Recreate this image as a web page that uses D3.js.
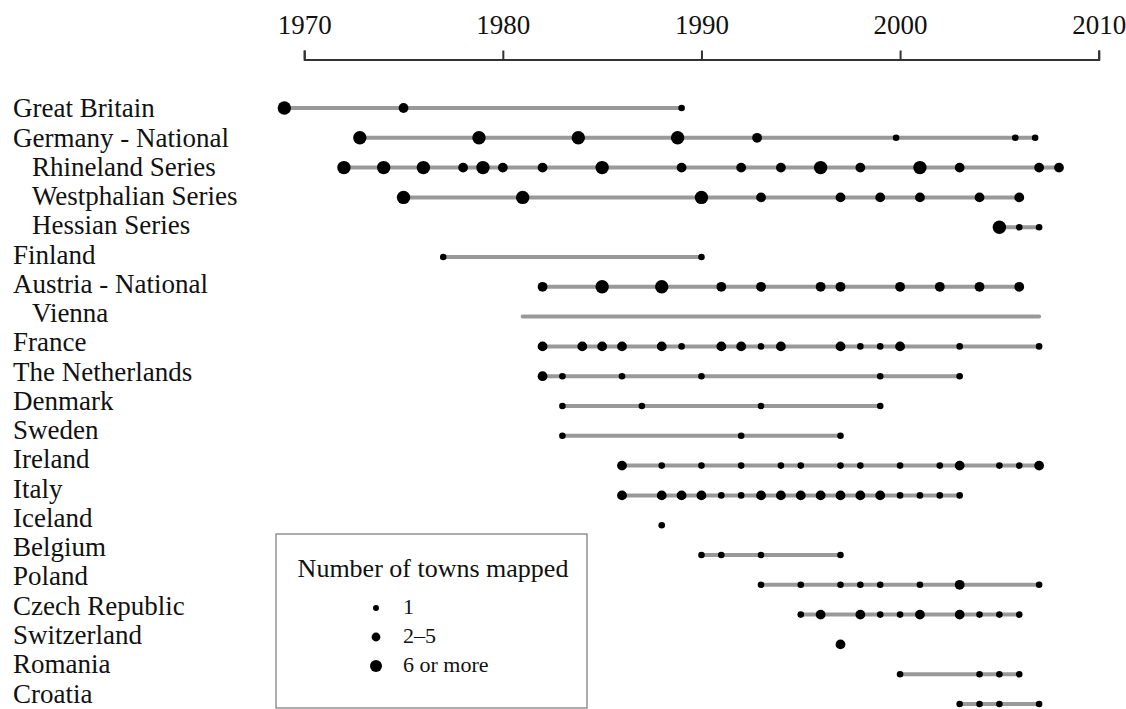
<!DOCTYPE html>
<html>
<head>
<meta charset="utf-8">
<script src="https://cdn.jsdelivr.net/npm/d3@7"></script>
<style>
  body { margin: 0; background: #fff; }
  text { font-family: "Liberation Serif", "Times New Roman", serif; fill: #111; }
</style>
</head>
<body>
<div id="chart"></div>
<script>
// row labels (indented rows are regional series)
let countries = ["Great Britain", "Germany - National", "Rhineland Series", "Westphalian Series",
    "Hessian Series", "Finland", "Austria - National", "Vienna", "France", "The Netherlands",
    "Denmark", "Sweden", "Ireland", "Italy", "Iceland", "Belgium", "Poland", "Czech Republic",
    "Switzerland", "Romania", "Croatia"];
let indented = [false, false, true, true, true, false, false, true, false, false,
    false, false, false, false, false, false, false, false, false, false, false];

// years of each atlas issue, per row
let years = [
    [1969, 1975, 1989],
    [1972.8, 1978.8, 1983.8, 1988.8, 1992.8, 1999.8, 2005.8, 2006.8],
    [1972, 1974, 1976, 1978, 1979, 1980, 1982, 1985, 1989, 1992, 1994, 1996, 1998, 2001, 2003, 2007, 2008],
    [1975, 1981, 1990, 1993, 1997, 1999, 2001, 2004, 2006],
    [2005, 2006, 2007],
    [1977, 1990],
    [1982, 1985, 1988, 1991, 1993, 1996, 1997, 2000, 2002, 2004, 2006],
    [],
    [1982, 1984, 1985, 1986, 1988, 1989, 1991, 1992, 1993, 1994, 1997, 1998, 1999, 2000, 2003, 2007],
    [1982, 1983, 1986, 1990, 1999, 2003],
    [1983, 1987, 1993, 1999],
    [1983, 1992, 1997],
    [1986, 1988, 1990, 1992, 1994, 1995, 1997, 1998, 2000, 2002, 2003, 2005, 2006, 2007],
    [1986, 1988, 1989, 1990, 1991, 1992, 1993, 1994, 1995, 1996, 1997, 1998, 1999, 2000, 2001, 2002, 2003],
    [1988],
    [1990, 1991, 1993, 1997],
    [1993, 1995, 1997, 1998, 1999, 2001, 2003, 2007],
    [1995, 1996, 1998, 1999, 2000, 2001, 2003, 2004, 2005, 2006],
    [1997],
    [2000, 2004, 2005, 2006],
    [2003, 2004, 2005, 2007]
];

// size class of each issue: 1 = 1 town, 2 = 2-5 towns, 3 = 6 or more
let sizes = [
    [3, 2, 1],
    [3, 3, 3, 3, 2, 1, 1, 1],
    [3, 3, 3, 2, 3, 2, 2, 3, 2, 2, 2, 3, 2, 3, 2, 2, 2],
    [3, 3, 3, 2, 2, 2, 2, 2, 2],
    [3, 1, 1],
    [1, 1],
    [2, 3, 3, 2, 2, 2, 2, 2, 2, 2, 2],
    [],
    [2, 2, 2, 2, 2, 1, 2, 2, 1, 2, 2, 1, 1, 2, 1, 1],
    [2, 1, 1, 1, 1, 1],
    [1, 1, 1, 1],
    [1, 1, 1],
    [2, 1, 1, 1, 1, 1, 1, 1, 1, 1, 2, 1, 1, 2],
    [2, 2, 2, 2, 1, 1, 2, 2, 2, 2, 2, 2, 2, 1, 1, 1, 1],
    [1],
    [1, 1, 1, 1],
    [1, 1, 1, 1, 1, 1, 2, 1],
    [1, 2, 2, 1, 1, 2, 2, 1, 1, 1],
    [2],
    [1, 1, 1, 1],
    [1, 1, 1, 1]
];

// Vienna has a span but no marked issues
let viennaSpan = [1981, 2007];

let tickYears = [1970, 1980, 1990, 2000, 2010];
let legendClasses = [1, 2, 3];
let legendLabels = ["1", "2\u20135", "6 or more"];

let svgWidth = 1126;
let svgHeight = 709;

let svg = d3.select("#chart")
    .append("svg")
    .attr("width", svgWidth)
    .attr("height", svgHeight);

let xScale = d3.scaleLinear()
    .domain([1970, 2010])
    .range([304.2, 1098.7]);

//dot rows
let yScale = d3.scalePoint()
    .domain(countries)
    .range([108, 704]);

//label rows are spaced a little tighter than the dot rows
let labelY = d3.scalePoint()
    .domain(countries)
    .range([117.3, 702.5]);

let rScale = d3.scaleOrdinal()
    .domain([1, 2, 3])
    .range([3.3, 4.9, 6.7]);

//top axis
let topAxis = d3.axisTop(xScale)
    .tickValues(tickYears)
    .tickFormat(d3.format("d"))
    .tickSize(9)
    .tickSizeOuter(9)
    .tickPadding(17);

let axisG = svg.append("g")
    .attr("transform", "translate(0, 59.5)")
    .call(topAxis);

axisG.select(".domain").attr("stroke", "#333").attr("stroke-width", 2);
axisG.selectAll(".tick line").attr("stroke", "#333").attr("stroke-width", 2);
axisG.selectAll(".tick text")
    .style("font-family", "'Liberation Serif', 'Times New Roman', serif")
    .style("font-size", "27px")
    .attr("fill", "#111");

//row labels
svg.append("g").selectAll("text")
    .data(countries)
    .enter()
    .append("text")
    .attr("x", (d, i) => indented[i] ? 32 : 13)
    .attr("y", d => labelY(d))
    .style("font-size", "27px")
    .text(d => d);

//spans
let rows = countries.map((c, i) => {
    let ext = years[i].length ? d3.extent(years[i]) : viennaSpan;
    return {name: c, start: ext[0], end: ext[1]};
}).filter(d => d.end > d.start);

svg.append("g").selectAll("line")
    .data(rows)
    .enter()
    .append("line")
    .attr("x1", d => xScale(d.start))
    .attr("x2", d => xScale(d.end))
    .attr("y1", d => yScale(d.name))
    .attr("y2", d => yScale(d.name))
    .attr("stroke", "#999")
    .attr("stroke-width", 4)
    .attr("stroke-linecap", d => d.name === "Vienna" ? "round" : "butt");

//dots
let points = [];
countries.forEach((c, i) => {
    years[i].forEach((yr, j) => points.push({name: c, year: yr, size: sizes[i][j]}));
});

svg.append("g").selectAll("circle")
    .data(points)
    .enter()
    .append("circle")
    .attr("cx", d => xScale(d.year))
    .attr("cy", d => yScale(d.name))
    .attr("r", d => rScale(d.size))
    .attr("fill", "#000");

//legend
let legend = svg.append("g");

legend.append("rect")
    .attr("x", 276)
    .attr("y", 534)
    .attr("width", 311)
    .attr("height", 174)
    .attr("fill", "#fff")
    .attr("stroke", "#777")
    .attr("stroke-width", 1.2);

legend.append("text")
    .attr("x", 433)
    .attr("y", 577)
    .attr("text-anchor", "middle")
    .style("font-size", "26px")
    .text("Number of towns mapped");

let legendY = d3.scalePoint()
    .domain(legendClasses)
    .range([608, 666]);

legend.selectAll("circle")
    .data(legendClasses)
    .enter()
    .append("circle")
    .attr("cx", 376)
    .attr("cy", d => legendY(d))
    .attr("r", d => rScale(d) * 0.9)
    .attr("fill", "#000");

legend.selectAll(".legend-label")
    .data(legendClasses)
    .enter()
    .append("text")
    .classed("legend-label", true)
    .attr("x", 403)
    .attr("y", d => legendY(d) + 6)
    .style("font-size", "22px")
    .text((d, i) => legendLabels[i]);
</script>
</body>
</html>
